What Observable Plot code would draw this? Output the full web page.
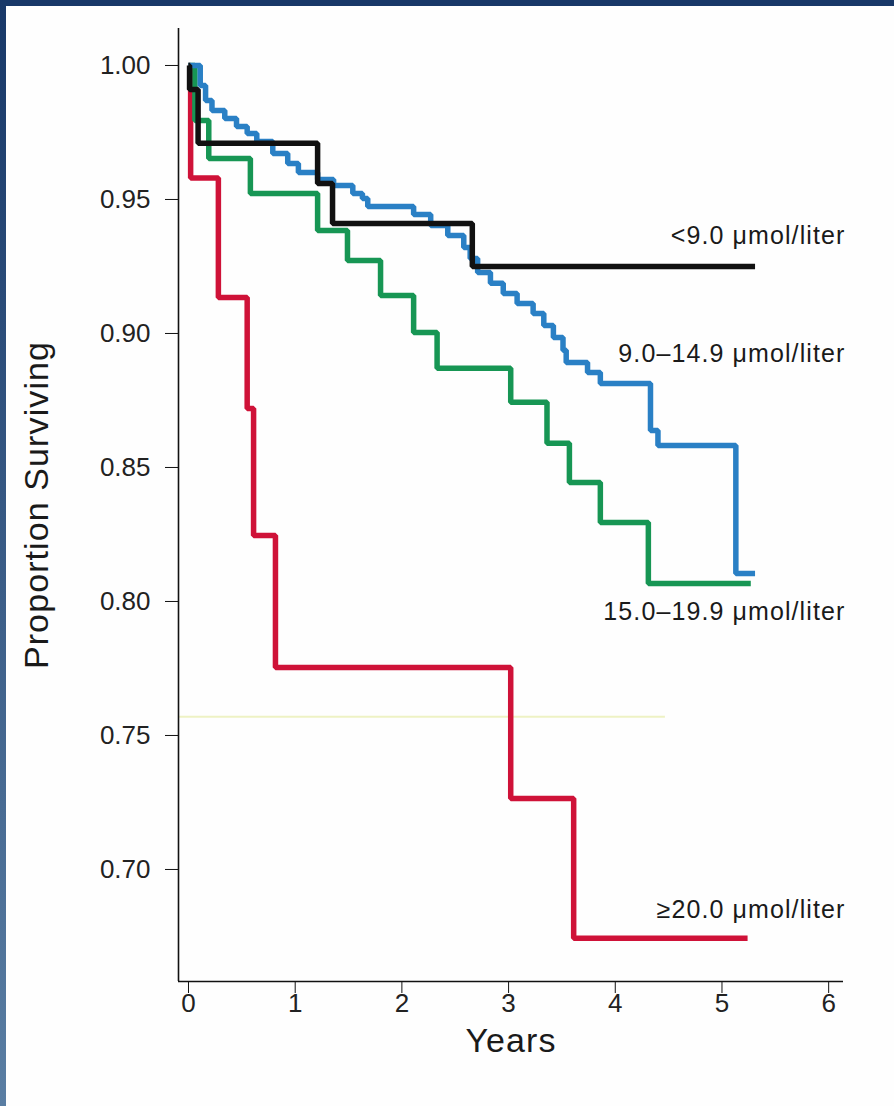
<!DOCTYPE html>
<html><head><meta charset="utf-8">
<script src="https://cdn.jsdelivr.net/npm/d3@7"></script>
<script src="https://cdn.jsdelivr.net/npm/@observablehq/plot@0.6"></script>
<style>
html,body{margin:0;padding:0;background:#fff;}
#wrap{position:relative;width:894px;height:1106px;overflow:hidden;background:#fefefe;}
#topbar{position:absolute;left:0;top:0;width:894px;height:6px;background:#183868;}
#leftbar{position:absolute;left:0;top:0;width:6px;height:1106px;background:linear-gradient(#183868,#5a7ea3);}
#chart{position:absolute;left:0;top:0;}
#chart g[aria-label="text"] text{letter-spacing:1.1px;}
</style></head><body>
<div id="wrap"><div id="chart"></div><div id="topbar"></div><div id="leftbar"></div></div>
<script>
// Series names
const groups = ["<9.0 \u03bcmol/liter", "9.0\u201314.9 \u03bcmol/liter", "15.0\u201319.9 \u03bcmol/liter", "\u226520.0 \u03bcmol/liter"];
// Kaplan-Meier step values (years, proportion surviving)
const blackT = [0, 0.01, 0.09, 1.21, 1.35, 2.66, 5.31];
const blackS = [1.0, 0.991, 0.971, 0.956, 0.941, 0.925, 0.925];
const blueT = [0, 0.11, 0.16, 0.22, 0.34, 0.45, 0.55, 0.64, 0.79, 0.93, 1.03, 1.21, 1.36, 1.54, 1.63, 1.68, 2.11, 2.27, 2.43, 2.58, 2.64, 2.71, 2.83, 2.95, 3.08, 3.23, 3.33, 3.42, 3.51, 3.54, 3.74, 3.86, 4.33, 4.40, 5.13, 5.31];
const blueS = [1.0, 0.9925, 0.9869, 0.9832, 0.9802, 0.9772, 0.9746, 0.9716, 0.9672, 0.9634, 0.9601, 0.9575, 0.9552, 0.9522, 0.9504, 0.9474, 0.9444, 0.9403, 0.9366, 0.9321, 0.9280, 0.9228, 0.9187, 0.9149, 0.9112, 0.9075, 0.9030, 0.8985, 0.8937, 0.8892, 0.8854, 0.8813, 0.8638, 0.8582, 0.8104, 0.8104];
const greenT = [0, 0.06, 0.19, 0.58, 1.21, 1.49, 1.80, 2.11, 2.33, 3.02, 3.36, 3.57, 3.86, 4.31, 5.27];
const greenS = [1.0, 0.9795, 0.9653, 0.9522, 0.9384, 0.9272, 0.9142, 0.9004, 0.887, 0.8743, 0.859, 0.8444, 0.8295, 0.8067, 0.8067];
const redT = [0, 0.02, 0.28, 0.55, 0.61, 0.815, 3.02, 3.61, 5.24];
const redS = [1.0, 0.958, 0.9134, 0.872, 0.8246, 0.7754, 0.7265, 0.6743, 0.6743];
// Label levels (proportion) for the series labels
const labelLevels = [0.9362, 0.8922, 0.7959, 0.6847];
const labelX = 6.157;
// Faint scan line in the original
const faintLevel = [0.757];
const faintEnd = 4.47;
// Ticks
const xTicks = [0, 1, 2, 3, 4, 5, 6];
const yTicks = [0.70, 0.75, 0.80, 0.85, 0.90, 0.95, 1.00];
const xDomain = [-0.0937, 6.139];
const yDomain = [0.6582, 1.0138];

const colors = ["#111111", "#2a80c5", "#179654", "#cf1238"];
const series = [[blackT, blackS], [blueT, blueS], [greenT, greenS], [redT, redS]];
const rows = [];
series.forEach(([T, S], i) => T.forEach((t, j) => rows.push({t, s: S[j], g: groups[i]})));
const order = [3, 2, 1, 0];
const font = "'Liberation Sans', Arial, Helvetica, sans-serif";

const plot = Plot.plot({
  width: 894, height: 1106,
  marginLeft: 178, marginRight: 51, marginTop: 28, marginBottom: 125,
  x: {domain: xDomain, label: null},
  y: {domain: yDomain, label: null},
  style: {fontFamily: font, fontSize: "26px", background: "transparent", color: "#222"},
  marks: [
    Plot.ruleY(faintLevel, {x1: xDomain[0], x2: faintEnd, stroke: "#eef2c4", strokeWidth: 2}),
    ...order.map(i => Plot.line(rows.filter(r => r.g === groups[i]), {x: "t", y: "s", curve: "step-after", stroke: colors[i], strokeWidth: 5.5, strokeLinejoin: "miter", strokeLinecap: "butt"})),
    Plot.ruleX([xDomain[0]], {stroke: "#111", strokeWidth: 1.6}),
    Plot.ruleY([yDomain[0]], {stroke: "#111", strokeWidth: 1.6}),
    Plot.axisY({ticks: yTicks, tickFormat: d3.format(".2f"), tickSize: 13, tickPadding: 15, fontSize: 26, label: null, stroke: "#111"}),
    Plot.axisX({ticks: xTicks, tickFormat: d3.format("d"), tickSize: 12, tickPadding: 0, fontSize: 26, label: null, stroke: "#111"}),
    Plot.text(groups, {x: () => labelX, y: (d, i) => labelLevels[i], text: d => d, textAnchor: "end", fontSize: 25, fill: "#1a1a1a"}),
    Plot.text(["Proportion Surviving"], {frameAnchor: "left", textAnchor: "middle", dx: -141, rotate: -90, fontSize: 34, fill: "#1a1a1a"}),
    Plot.text(["Years"], {frameAnchor: "bottom", dy: 70, fontSize: 34, fill: "#1a1a1a"})
  ]
});
document.getElementById("chart").appendChild(plot);
</script>
</body></html>
